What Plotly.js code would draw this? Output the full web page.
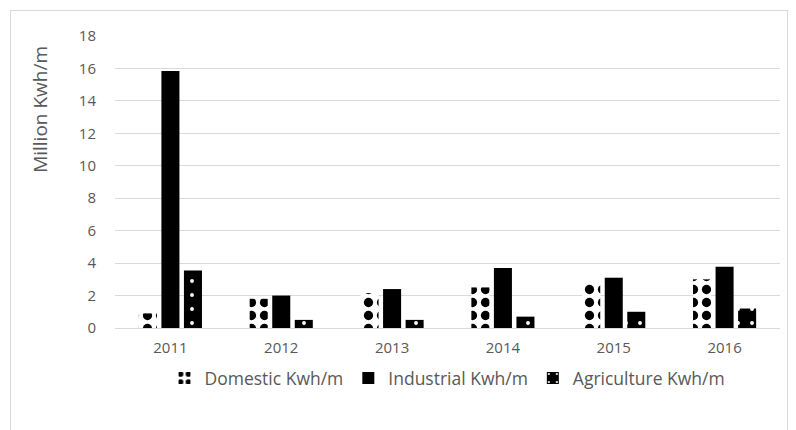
<!DOCTYPE html>
<html><head><meta charset="utf-8">
<script src="https://cdn.plot.ly/plotly-3.0.1.min.js"></script>
<style>
html,body{margin:0;padding:0;background:#fff;}
#chart{width:796px;height:430px;position:relative;}
#frame{position:absolute;left:10px;top:10px;width:778px;height:430px;border:1px solid #d9d9d9;border-bottom:none;pointer-events:none;box-sizing:border-box;}
</style></head>
<body>
<div id="chart"></div>
<div id="frame"></div>
<script>
const years = ['2011','2012','2013','2014','2015','2016'];
const domestic = [0.9, 1.8, 2.15, 2.5, 2.85, 3.0];
const industrial = [15.85, 2.0, 2.4, 3.7, 3.1, 3.77];
const agriculture = [3.55, 0.5, 0.5, 0.7, 1.0, 1.2];
const yTicks = [0,2,4,6,8,10,12,14,16,18];

const font = {family:'"Open Sans", "Liberation Sans", sans-serif', color:'#595959', size:14};

const traces = [
  {type:'bar', name:'Domestic Kwh/m', x:years, y:domestic,
   marker:{color:'#ffffff', line:{width:0}, pattern:{shape:'.', fgcolor:'#000000', bgcolor:'#ffffff', size:13, solidity:0.4, fillmode:'replace'}}},
  {type:'bar', name:'Industrial Kwh/m', x:years, y:industrial,
   marker:{color:'#000000', line:{width:0}}},
  {type:'bar', name:'Agriculture Kwh/m', x:years, y:agriculture,
   marker:{color:'#000000', line:{width:0}, pattern:{shape:'.', fgcolor:'#ffffff', bgcolor:'#000000', size:14, solidity:0.06, fillmode:'replace'}}}
];

const layout = {
  width:796, height:430,
  margin:{l:115, r:16, t:36, b:102},
  paper_bgcolor:'#ffffff', plot_bgcolor:'#ffffff',
  font:font,
  barmode:'group', bargap:0.39, bargroupgap:0.2,
  showlegend:true,
  legend:{orientation:'h', x:0.5, xanchor:'center', y:-0.11, yanchor:'top', font:{size:17.5, color:'#595959'}, itemwidth:30},
  xaxis:{type:'category', tickfont:{size:15, color:'#595959'}, showline:true, linecolor:'#d9d9d9', ticks:'', showgrid:false, ticklabelstandoff:6},
  yaxis:{range:[0,18], tickvals:yTicks, ticktext:yTicks.map(String), tickfont:{size:15, color:'#595959'}, gridcolor:'#d9d9d9', showline:false, zeroline:false, ticks:'', ticklabelstandoff:18},
  annotations:[{text:'Million Kwh/m', xref:'paper', yref:'paper', x:-0.113, y:0.75, textangle:-90, showarrow:false, font:{size:19, color:'#595959'}, xanchor:'center', yanchor:'middle'}]
};

Plotly.newPlot('chart', traces, layout, {displayModeBar:false, staticPlot:true});
</script>
</body></html>
